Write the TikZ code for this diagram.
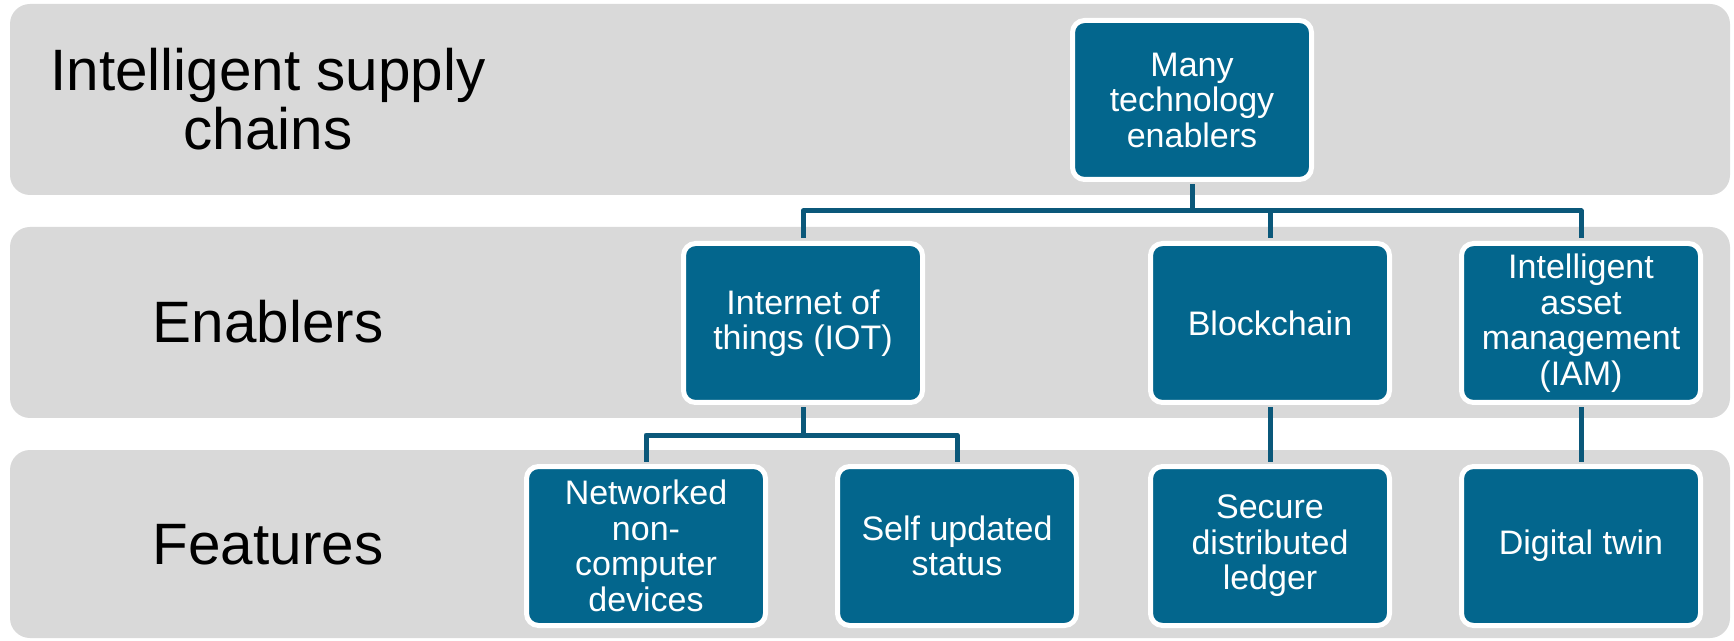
\documentclass[tikz,border=0pt]{standalone}
\usepackage{fontspec}
\setmainfont{Liberation Sans}
\usetikzlibrary{positioning}
\definecolor{bandgray}{HTML}{D9D9D9}
\definecolor{boxblue}{HTML}{03668D}
\definecolor{linkblue}{HTML}{0B587A}
\pgfdeclarelayer{bands}
\pgfsetlayers{bands,main}
\tikzset{
  tbox/.style={draw=white, line width=2.5pt, fill=boxblue, rounded corners=6pt,
    minimum width=119.5pt, minimum height=79.5pt, inner sep=0pt, align=center,
    text=white, font=\fontsize{17}{17.75}\selectfont},
  rowlabel/.style={align=center, font=\fontsize{29.2}{29.5}\selectfont},
  link/.style={draw=linkblue, line width=2.5pt, shorten <=1.25pt, shorten >=1.25pt}
}
\begin{document}
\begin{tikzpicture}[x=0.5pt, y=-0.5pt, line join=round]
  \def \bl{10};
  \def \br{1730};
  \useasboundingbox (0,0) rectangle (1734,641);
  % grey rows
  \begin{pgfonlayer}{bands}
    \foreach \t/\b in {4/195, 227/418, 450/638}
      \fill[bandgray, rounded corners=10pt] (\bl,\t) rectangle (\br,\b);
  \end{pgfonlayer}
  \node[rowlabel] (lbltop) at (268,99) {Intelligent supply\\chains};
  \node[rowlabel] (lblmid) at (268,322) {Enablers};
  \node[rowlabel] (lblbot) at (268,545) {Features};
  % boxes
  \node[tbox] (many) at (1192,100) {Many\\technology\\enablers};
  \node[tbox] (iot) at (803,323) {Internet of\\things (IOT)};
  \node[tbox] (chain) at (1270,323) {Blockchain};
  \node[tbox] (iam) at (1581,323) {Intelligent\\asset\\management\\(IAM)};
  \node[tbox] (netdev) at (646,546) {Networked\\non-\\computer\\devices};
  \node[tbox] (selfupd) at (957,546) {Self updated\\status};
  \node[tbox] (ledger) at (1270,546) {Secure\\distributed\\ledger};
  \node[tbox] (twin) at (1581,546) {Digital twin};
  % connectors
  \coordinate (bustop) at (0,211);
  \coordinate (busiot) at (0,435);
  \foreach \n in {iot,chain,iam}
    \draw[link] (many.south) -- (many.south |- bustop) -| (\n.north);
  \foreach \n in {netdev,selfupd}
    \draw[link] (iot.south) -- (iot.south |- busiot) -| (\n.north);
  \draw[link] (chain.south) -- (ledger.north);
  \draw[link] (iam.south) -- (twin.north);
\end{tikzpicture}
\end{document}
